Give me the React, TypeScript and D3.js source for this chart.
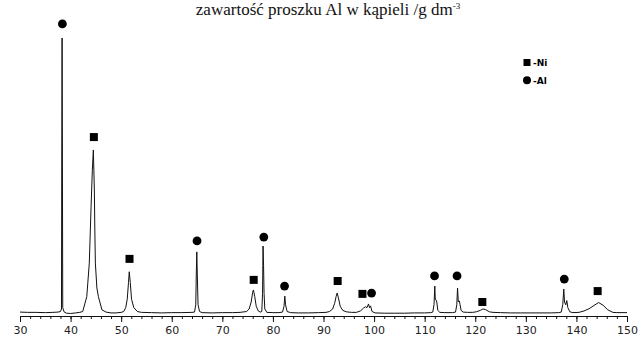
import React, { useEffect, useRef } from 'react';
import * as d3 from 'd3';

// diffractogram: 2theta / relative intensity
const twoTheta = [
  30, 31.5, 33, 35, 36.5, 37.5, 38.0, 38.2, 38.26, 38.32, 38.38, 38.45, 38.7, 39.2, 40, 41, 41.8,
  42.4, 43.2, 43.7, 44.05, 44.3, 44.5, 44.7, 44.8, 44.9, 45.2, 45.5, 46.2, 47, 48, 49, 50,
  50.5, 50.9, 51.2, 51.45, 51.6, 51.8, 52.05, 52.5, 53.2, 54, 56, 58, 60, 62, 64,
  64.5, 64.75, 64.85, 64.95, 65.05, 65.2, 65.5, 66, 68, 70, 72, 73.5,
  74.8, 75.3, 75.7, 76.0, 76.15, 76.4, 76.7, 77.1, 77.5, 77.8, 77.95, 78.05, 78.15, 78.25, 78.4, 78.8,
  80, 81.2, 81.9, 82.2, 82.35, 82.5, 82.8, 83.5, 85, 87, 89, 90.5,
  91.2, 91.8, 92.2, 92.5, 92.7, 92.95, 93.3, 93.8, 94.5, 95.5, 96.5,
  97.3, 97.9, 98.3, 98.6, 98.9, 99.1, 99.3, 99.6, 100.2, 102, 104, 106, 108, 110, 111.2,
  111.6, 111.85, 112.0, 112.1, 112.25, 112.4, 112.6, 113, 114, 115.5,
  116.1, 116.35, 116.5, 116.65, 116.85, 117.0, 117.2, 117.6, 118.5, 119.5,
  120.2, 121, 121.5, 122, 122.8, 123.5, 125, 127, 129, 131, 133, 135, 136.5,
  137.0, 137.3, 137.5, 137.65, 137.9, 138.1, 138.3, 138.7, 139.3,
  140.5, 141.5, 142.5, 143.5, 144.4, 145.3, 146.2, 147.2, 148, 150,
];
const intensity = [
  1.4, 1.3, 1.3, 1.2, 1.3, 1.4, 1.6, 2.5, 60, 99.3, 60, 3, 1.5, 1.0, 0.9, 1.1, 1.3,
  1.6, 6.9, 18.9, 39, 52, 59.3, 45, 30, 18.9, 10, 6.9, 2.2, 1.4, 1.1, 1.1, 1.3,
  1.6, 3, 6, 12, 15.8, 12, 6, 3, 1.6, 1.3, 1.2, 1.1, 1.2, 1.2, 1.3,
  1.4, 4, 15, 22.9, 15, 4, 1.6, 1.2, 1.1, 1.2, 1.2, 1.3,
  1.6, 2.5, 5, 8.5, 9.3, 7, 3.5, 1.8, 1.4, 1.6, 8, 25, 18, 8, 2.5, 1.3,
  1.2, 1.2, 1.4, 3.5, 7.1, 4, 1.6, 1.2, 1.1, 1.1, 1.2, 1.3,
  1.6, 2.5, 4.5, 7, 8.2, 6.5, 3.5, 2, 1.5, 1.3, 1.3,
  1.8, 2.8, 3.3, 3.0, 4.3, 3.0, 3.6, 1.6, 1.1, 1.0, 1.0, 1.0, 1.1, 1.1, 1.2,
  1.4, 4, 10.7, 6, 5.7, 5, 2, 1.3, 1.2, 1.2,
  1.4, 4, 10, 5, 5.4, 4, 2, 1.4, 1.3, 1.3,
  1.5, 2, 2.5, 2.3, 1.5, 1.3, 1.2, 1.1, 1.1, 1.1, 1.1, 1.1, 1.2,
  1.4, 4, 9.6, 5, 4, 5.5, 3, 1.5, 1.2,
  1.3, 1.8, 2.6, 3.8, 4.8, 3.8, 2.2, 1.3, 1.2, 1.2,
];

// phase markers: position and height of the symbol
const niPos = [44.6, 51.65, 76.2, 92.8, 97.7, 121.4, 144.2];
const niLevel = [63.9, 20.4, 12.9, 12.5, 7.9, 5, 8.9];
const alPos = [38.38, 65.0, 78.2, 82.3, 99.5, 111.95, 116.4, 137.6];
const alLevel = [104.3, 26.8, 28.2, 10.7, 8.2, 14.3, 14.3, 13.2];

const majorTicks = d3.range(30, 151, 10);
const minorTicks = d3.range(30, 151, 2);

const W = 638;
const H = 338;

const App: React.FC = () => {
  const axisRef = useRef<SVGGElement | null>(null);

  const x = d3.scaleLinear().domain([30, 150]).range([20, 627]);
  const y = d3.scaleLinear().domain([0, 100]).range([316, 36]);

  useEffect(() => {
    const g = d3.select(axisRef.current);
    g.selectAll('*').remove();

    g.append('g')
      .call(d3.axisBottom(x).tickValues(minorTicks).tickSize(3).tickFormat(() => ''))
      .call(s => s.select('.domain').remove());

    const major = g.append('g')
      .call(d3.axisBottom(x).tickValues(majorTicks).tickSize(6).tickPadding(4).tickFormat(d3.format('d')));
    major.select('.domain').attr('stroke', '#111');
    major.selectAll('text')
      .attr('font-family', 'DejaVu Sans')
      .attr('font-size', 11)
      .attr('fill', '#222');
    g.selectAll('line').attr('stroke', '#111');
  }, []);

  const pts = twoTheta.map((t, i) => [t, intensity[i]] as [number, number]);
  const line = d3.line<[number, number]>()
    .x(d => x(d[0]))
    .y(d => y(d[1]));

  return (
    <svg width={W} height={H} style={{ position: 'absolute', left: 0, top: 0, background: '#fff' }}>
      <text x={328} y={15} textAnchor="middle" fontFamily="Liberation Serif" fontSize={17} fill="#111">
        zawartość proszku Al w kąpieli /g dm<tspan dy={-6} fontSize={9}>-3</tspan>
      </text>

      <path d={line(pts) ?? ''} fill="none" stroke="#111" strokeWidth={1} />

      {niPos.map((p, i) => (
        <rect key={'ni' + i} x={x(p) - 4} y={y(niLevel[i]) - 4} width={8} height={8} fill="#000" />
      ))}
      {alPos.map((p, i) => (
        <circle key={'al' + i} cx={x(p)} cy={y(alLevel[i])} r={4.4} fill="#000" />
      ))}

      <g fontFamily="DejaVu Sans" fontWeight="bold" fontSize={9} fill="#000">
        <rect x={523.5} y={59} width={7} height={7} />
        <text x={533} y={66}>-Ni</text>
        <circle cx={527} cy={80.3} r={4} />
        <text x={533} y={84}>-Al</text>
      </g>

      <g ref={axisRef} transform="translate(0,316)" />
    </svg>
  );
};

export default App;
